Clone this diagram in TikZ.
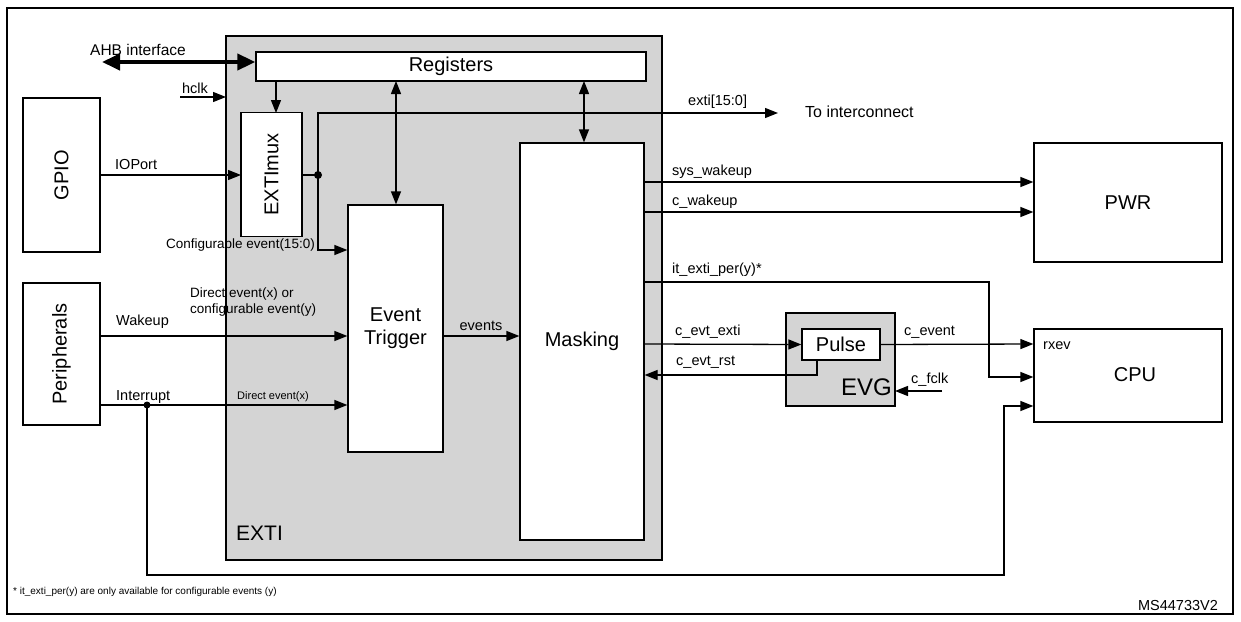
\documentclass[tikz,border=0pt]{standalone}
\usepackage{fontspec}
\setmainfont{Liberation Sans}
\usetikzlibrary{arrows.meta}
\tikzset{
	blk/.style={draw, fill=white, line width=1.3pt, inner sep=0pt},
	sig/.style={line width=1.3pt, -{Triangle[length=13pt,width=10pt]}},
	bidir/.style={line width=1.3pt, {Triangle[length=13pt,width=10pt]}-{Triangle[length=13pt,width=10pt]}},
	lbl/.style={inner sep=0pt, font=\fontsize{14.5}{17}\selectfont},
	big/.style={font=\fontsize{20}{23}\selectfont},
}
\begin{document}
\begin{tikzpicture}[x=1pt, y=-1pt]
	\useasboundingbox (0,0) rectangle (1241,621);
	\draw[line width=1.3pt] (7,8) rectangle (1233,614);
	
	% EXTI block
	\draw[line width=1.3pt, fill=black!17] (226,36) rectangle (662,560);
	\node[lbl, font=\fontsize{21}{23}\selectfont, anchor=west] (exti) at (236,533) {EXTI};
	\node[blk, minimum width=390pt, minimum height=29pt, big] (reg) at (451,66.5) {Registers};
	\node[blk, minimum width=124pt, minimum height=61pt, big, rotate=90] (mux) at (271.5,174.5) {EXTImux};
	\node[blk, minimum width=95pt, minimum height=247pt, big, align=center] (et) at (395.5,328.5) {Event\\Trigger};
	\node[blk, minimum width=124pt, minimum height=397pt, big] (mask) at (582,341.5) {Masking};
	
	% outside blocks
	\node[blk, minimum width=77pt, minimum height=154pt] (gpio) at (61.5,175) {};
	\node[big, rotate=90] at (gpio) {GPIO};
	\node[blk, minimum width=77pt, minimum height=142pt] (peri) at (61.5,354) {};
	\node[big, rotate=90] at (peri) {Peripherals};
	\node[blk, minimum width=188pt, minimum height=119pt, big] (pwr) at (1128,202.5) {PWR};
	\node[blk, minimum width=188pt, minimum height=93pt] (cpu) at (1128,375.5) {};
	\node[big] at (1135,375) {CPU};
	\node[lbl, anchor=west] (rxev) at (1043,346) {rxev};
	
	% EVG
	\draw[line width=1.3pt, fill=black!17] (786,313) rectangle (895,406);
	\node[big, font=\fontsize{24}{26}\selectfont, anchor=east, inner sep=0pt] (evg) at (892,387) {EVG};
	\node[blk, minimum width=78pt, minimum height=31pt, big] (pulse) at (841,344.5) {Pulse};
	
	\coordinate (Dot) at (318,175);
	\coordinate (Irq) at (147,405);
	\coordinate (MuxIn) at (241,175);
	\coordinate (MuxOut) at (302,175);
	\coordinate (MuxTop) at (276,113);
	
	% bus and clock
	\draw[line width=4pt, {Triangle[length=18pt,width=16pt]}-{Triangle[length=18pt,width=16pt]}] (102,62) -- (reg.west |- 0,62);
	\node[lbl, font=\fontsize{15.5}{18}\selectfont] (ahb) at (138,50) {AHB interface};
	\draw[sig] (180,97) -- (226,97);
	\node[lbl] (hclk) at (195,88) {hclk};
	
	\draw[sig] (reg.south -| MuxTop) -- (MuxTop);
	\draw[bidir] (396,81) -- (et.north -| 396,0);
	\draw[bidir] (584,81) -- (mask.north -| 584,0);
	
	% GPIO path
	\draw[sig] (gpio.east |- Dot) -- (MuxIn);
	\node[lbl, anchor=west] (ioport) at (115,165) {IOPort};
	\draw[line width=1.3pt] (MuxOut) -- (Dot);
	\fill (Dot) circle (4pt);
	\draw[sig] (Dot) -- (318,113) -- (778,113);
	\node[lbl, anchor=west] (exbus) at (688,102) {exti[15:0]};
	\node[lbl, anchor=west, font=\fontsize{16}{18}\selectfont] (inter) at (805,112) {To interconnect};
	\draw[sig] (Dot) -- (318,250) -- (et.west |- 0,250);
	\node[lbl, anchor=east, font=\fontsize{13.5}{16}\selectfont] (cfg) at (315,245) {Configurable event(15:0)};
	
	% peripherals
	\draw[sig] (peri.east |- 0,336) -- (et.west |- 0,336);
	\node[lbl, anchor=west] (wake) at (116,322) {Wakeup};
	\node[lbl, anchor=west, align=left, font=\fontsize{13.5}{16.5}\selectfont] (dir) at (190,302) {Direct event(x) or\\configurable event(y)};
	\draw[sig] (peri.east |- Irq) -- (et.west |- Irq);
	\node[lbl, anchor=west] (intr) at (116,397) {Interrupt};
	\node[lbl, anchor=west, font=\fontsize{11}{13}\selectfont] (dx) at (237,397) {Direct event(x)};
	\fill (Irq) circle (3.5pt);
	\draw[sig] (Irq) -- (147,575) -- (1004,575) -- (1004,406) -- (cpu.west |- 0,406);
	
	% events
	\draw[sig] (et.east |- 0,336) -- (mask.west |- 0,336);
	\node[lbl] (ev) at (481,326) {events};
	
	% to PWR
	\draw[sig] (mask.east |- 0,182) -- (pwr.west |- 0,182);
	\node[lbl, anchor=west] (sysw) at (672,172) {sys\_wakeup};
	\draw[sig] (mask.east |- 0,212) -- (pwr.west |- 0,212);
	\node[lbl, anchor=west] (cw) at (672,202) {c\_wakeup};
	
	% to CPU
	\draw[sig] (mask.east |- 0,282) -- (989,282) -- (989,377) -- (cpu.west |- 0,377);
	\node[lbl, anchor=west] (itex) at (672,270) {it\_exti\_per(y)*};
	\draw[sig] (mask.east |- 0,344) -- (pulse.west);
	\node[lbl, anchor=west] (cex) at (675,332) {c\_evt\_exti};
	\draw[sig] (817,360) -- (817,375) -- (mask.east |- 0,375);
	\node[lbl, anchor=west] (crst) at (676,362) {c\_evt\_rst};
	\draw[sig] (pulse.east) -- (cpu.west |- 0,344);
	\node[lbl, anchor=west] (cev) at (904,332) {c\_event};
	\draw[sig] (942,391) -- (895,391);
	\node[lbl, anchor=west] (cfc) at (911,380) {c\_fclk};
	
	% footnotes
	\node[lbl, anchor=west, font=\fontsize{10}{12}\selectfont] (note) at (13,592) {* it\_exti\_per(y) are only available for configurable events (y)};
	\node[lbl] (ms) at (1178,605) {MS44733V2};
\end{tikzpicture}
\end{document}
